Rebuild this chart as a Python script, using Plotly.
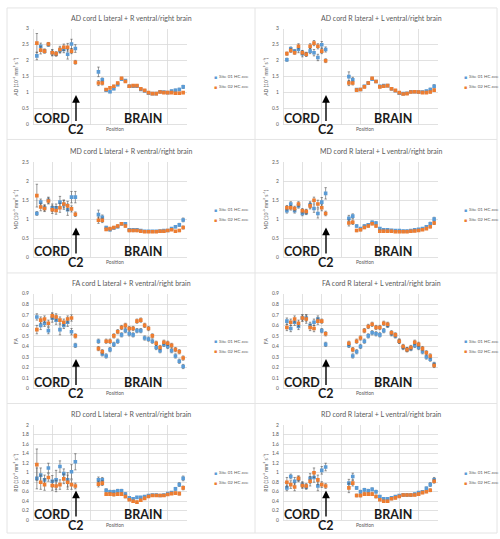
import plotly.graph_objects as go

# ---------------- data ----------------
POSITION = [1, 2, 3, 4, 5, 6, 7, 8, 9, 10, 11,
            17, 18, 19, 20, 21, 22, 23, 24, 25, 26, 27, 28, 29, 30, 31, 32, 33, 34, 35, 36, 37, 38, 39]

SERIES_NAMES = ["Site 01 HC average", "Site 02 HC average"]
LEGEND_LABELS = ["Site 01 HC ave", "Site 02 HC ave"]   # truncated at the panel edge in the original

TITLES = [
    "AD cord L lateral + R ventral/right brain", "AD cord R lateral + L ventral/right brain",
    "MD cord L lateral + R ventral/right brain", "MD cord R lateral + L ventral/right brain",
    "FA cord L lateral + R ventral/right brain", "FA cord R lateral + L ventral/right brain",
    "RD cord L lateral + R ventral/right brain", "RD cord R lateral + L ventral/right brain",
]
YTITLES = ["AD (10⁻³ mm² s⁻¹)", "MD (10⁻³ mm² s⁻¹)", "FA", "RD (10⁻³ mm² s⁻¹)"]
YMAX = [3, 2.5, 0.9, 2]
YSTEP = [0.5, 0.5, 0.1, 0.2]

AD_L_S01 = [2.15, 2.45, 2.30, 2.50, 2.25, 2.20, 2.32, 2.35, 2.20, 2.52, 2.38,
            1.65, 1.40, 1.08, 1.03, 1.12, 1.25, 1.42, 1.38, 1.20, 1.20, 1.20, 1.10, 1.05, 0.98, 0.97, 0.97, 1.03, 1.02, 1.00, 1.05, 1.07, 1.10, 1.18]
AD_L_S02 = [2.55, 2.33, 2.30, 2.52, 2.25, 2.22, 2.35, 2.42, 2.42, 2.30, 1.95,
            1.30, 1.30, 1.10, 1.15, 1.20, 1.30, 1.45, 1.35, 1.20, 1.22, 1.22, 1.12, 1.07, 1.00, 0.97, 0.97, 1.02, 1.00, 1.00, 1.00, 0.98, 0.98, 1.00]
AD_L_S01_ERR = [0.12, 0.10, 0.06, 0.05, 0.10, 0.06, 0.08, 0.10, 0.15, 0.15, 0.12,
                0.15, 0.06, 0.03, 0.03, 0.03, 0.03, 0.03, 0.03, 0.03, 0.03, 0.03, 0.03, 0.02, 0.02, 0.02, 0.02, 0.02, 0.02, 0.02, 0.03, 0.04, 0.04, 0.05]
AD_L_S02_ERR = [0.30, 0.12, 0.06, 0.05, 0.08, 0.06, 0.10, 0.10, 0.12, 0.08, 0.06,
                0.08, 0.06, 0.03, 0.03, 0.03, 0.03, 0.03, 0.03, 0.03, 0.03, 0.03, 0.03, 0.02, 0.02, 0.02, 0.02, 0.02, 0.02, 0.02, 0.02, 0.02, 0.03, 0.03]

AD_R_S01 = [2.03, 2.37, 2.30, 2.35, 2.22, 2.20, 2.30, 2.25, 2.10, 2.50, 2.35,
            1.50, 1.40, 1.10, 1.10, 1.20, 1.30, 1.42, 1.35, 1.20, 1.22, 1.22, 1.12, 1.06, 0.98, 0.97, 0.98, 1.03, 1.03, 1.02, 1.02, 1.05, 1.10, 1.20]
AD_R_S02 = [2.22, 2.32, 2.25, 2.45, 2.25, 2.20, 2.45, 2.55, 2.45, 2.30, 2.00,
            1.30, 1.30, 1.08, 1.10, 1.18, 1.30, 1.45, 1.35, 1.18, 1.20, 1.22, 1.12, 1.07, 1.00, 0.96, 0.97, 1.02, 1.03, 1.02, 1.00, 1.00, 1.02, 1.08]
AD_R_S01_ERR = [0.05, 0.06, 0.05, 0.10, 0.10, 0.06, 0.08, 0.10, 0.10, 0.10, 0.08,
                0.15, 0.08, 0.03, 0.03, 0.03, 0.03, 0.03, 0.03, 0.03, 0.03, 0.03, 0.03, 0.02, 0.02, 0.02, 0.02, 0.02, 0.02, 0.02, 0.03, 0.03, 0.04, 0.05]
AD_R_S02_ERR = [0.05, 0.06, 0.05, 0.08, 0.06, 0.06, 0.08, 0.08, 0.08, 0.08, 0.06,
                0.08, 0.06, 0.03, 0.03, 0.03, 0.03, 0.03, 0.03, 0.03, 0.03, 0.03, 0.03, 0.02, 0.02, 0.02, 0.02, 0.02, 0.02, 0.02, 0.02, 0.02, 0.03, 0.03]

MD_L_S01 = [1.15, 1.45, 1.30, 1.50, 1.30, 1.30, 1.45, 1.38, 1.25, 1.58, 1.58,
            1.12, 1.05, 0.78, 0.72, 0.77, 0.80, 0.88, 0.88, 0.72, 0.72, 0.72, 0.70, 0.68, 0.68, 0.68, 0.68, 0.69, 0.70, 0.70, 0.75, 0.80, 0.85, 0.98]
MD_L_S02 = [1.62, 1.32, 1.28, 1.48, 1.25, 1.23, 1.30, 1.40, 1.35, 1.27, 1.13,
            0.97, 0.97, 0.73, 0.75, 0.78, 0.82, 0.88, 0.82, 0.70, 0.70, 0.70, 0.68, 0.67, 0.67, 0.67, 0.67, 0.68, 0.68, 0.70, 0.72, 0.68, 0.70, 0.78]
MD_L_S01_ERR = [0.05, 0.08, 0.08, 0.08, 0.10, 0.10, 0.15, 0.12, 0.15, 0.15, 0.15,
                0.12, 0.06, 0.03, 0.03, 0.03, 0.03, 0.03, 0.03, 0.03, 0.03, 0.03, 0.02, 0.02, 0.02, 0.02, 0.02, 0.02, 0.02, 0.02, 0.03, 0.03, 0.04, 0.05]
MD_L_S02_ERR = [0.30, 0.10, 0.08, 0.08, 0.10, 0.10, 0.12, 0.10, 0.12, 0.08, 0.06,
                0.08, 0.06, 0.03, 0.03, 0.03, 0.03, 0.03, 0.03, 0.03, 0.03, 0.03, 0.02, 0.02, 0.02, 0.02, 0.02, 0.02, 0.02, 0.02, 0.02, 0.02, 0.03, 0.04]

MD_R_S01 = [1.22, 1.40, 1.22, 1.35, 1.15, 1.18, 1.38, 1.28, 1.15, 1.45, 1.68,
            1.02, 1.08, 0.82, 0.75, 0.82, 0.85, 0.92, 0.90, 0.75, 0.72, 0.72, 0.71, 0.70, 0.70, 0.69, 0.69, 0.70, 0.72, 0.73, 0.75, 0.80, 0.88, 1.00]
MD_R_S02 = [1.30, 1.30, 1.28, 1.40, 1.22, 1.20, 1.35, 1.50, 1.40, 1.30, 1.15,
            0.90, 0.92, 0.70, 0.72, 0.78, 0.82, 0.88, 0.82, 0.68, 0.68, 0.68, 0.68, 0.67, 0.67, 0.67, 0.67, 0.68, 0.69, 0.70, 0.72, 0.75, 0.80, 0.90]
MD_R_S01_ERR = [0.06, 0.06, 0.06, 0.06, 0.06, 0.06, 0.08, 0.10, 0.12, 0.12, 0.15,
                0.08, 0.06, 0.03, 0.03, 0.03, 0.03, 0.03, 0.03, 0.03, 0.03, 0.03, 0.02, 0.02, 0.02, 0.02, 0.02, 0.02, 0.02, 0.02, 0.03, 0.03, 0.04, 0.05]
MD_R_S02_ERR = [0.06, 0.06, 0.06, 0.06, 0.06, 0.06, 0.08, 0.08, 0.10, 0.08, 0.06,
                0.08, 0.06, 0.03, 0.03, 0.03, 0.03, 0.03, 0.03, 0.03, 0.03, 0.03, 0.02, 0.02, 0.02, 0.02, 0.02, 0.02, 0.02, 0.02, 0.02, 0.02, 0.03, 0.04]

FA_L_S01 = [0.68, 0.60, 0.62, 0.55, 0.67, 0.65, 0.56, 0.60, 0.63, 0.54, 0.41,
            0.45, 0.33, 0.31, 0.37, 0.42, 0.45, 0.51, 0.55, 0.52, 0.51, 0.55, 0.55, 0.48, 0.47, 0.45, 0.39, 0.36, 0.42, 0.40, 0.36, 0.31, 0.26, 0.21]
FA_L_S02 = [0.56, 0.65, 0.66, 0.62, 0.69, 0.68, 0.65, 0.63, 0.66, 0.67, 0.50,
            0.38, 0.35, 0.45, 0.45, 0.50, 0.54, 0.58, 0.60, 0.57, 0.57, 0.64, 0.65, 0.60, 0.57, 0.50, 0.43, 0.39, 0.44, 0.43, 0.41, 0.37, 0.35, 0.29]
FA_L_S01_ERR = [0.03, 0.04, 0.03, 0.03, 0.04, 0.04, 0.05, 0.03, 0.04, 0.03, 0.02,
                0.02, 0.02, 0.02, 0.02, 0.02, 0.02, 0.02, 0.02, 0.02, 0.02, 0.02, 0.02, 0.02, 0.02, 0.02, 0.02, 0.02, 0.02, 0.02, 0.02, 0.02, 0.02, 0.02]
FA_L_S02_ERR = [0.04, 0.03, 0.03, 0.03, 0.03, 0.03, 0.03, 0.03, 0.03, 0.03, 0.02,
                0.02, 0.02, 0.02, 0.02, 0.02, 0.02, 0.02, 0.02, 0.02, 0.02, 0.02, 0.02, 0.02, 0.02, 0.02, 0.02, 0.02, 0.02, 0.02, 0.02, 0.02, 0.02, 0.02]

FA_R_S01 = [0.64, 0.57, 0.63, 0.59, 0.67, 0.67, 0.60, 0.63, 0.66, 0.55, 0.42,
            0.41, 0.31, 0.35, 0.40, 0.45, 0.50, 0.53, 0.52, 0.51, 0.55, 0.60, 0.52, 0.50, 0.45, 0.39, 0.37, 0.38, 0.41, 0.39, 0.35, 0.30, 0.28, 0.23]
FA_R_S02 = [0.58, 0.63, 0.66, 0.62, 0.67, 0.66, 0.58, 0.57, 0.64, 0.64, 0.52,
            0.43, 0.37, 0.45, 0.48, 0.55, 0.59, 0.61, 0.58, 0.58, 0.62, 0.61, 0.53, 0.51, 0.45, 0.40, 0.37, 0.39, 0.44, 0.42, 0.38, 0.34, 0.31, 0.22]
FA_R_S01_ERR = [0.03, 0.03, 0.03, 0.03, 0.03, 0.03, 0.03, 0.03, 0.03, 0.02, 0.02,
                0.02, 0.02, 0.02, 0.02, 0.02, 0.02, 0.02, 0.02, 0.02, 0.02, 0.02, 0.02, 0.02, 0.02, 0.02, 0.02, 0.02, 0.02, 0.02, 0.02, 0.02, 0.02, 0.02]
FA_R_S02_ERR = [0.03, 0.03, 0.03, 0.03, 0.03, 0.04, 0.03, 0.03, 0.03, 0.02, 0.02,
                0.02, 0.02, 0.02, 0.02, 0.02, 0.02, 0.02, 0.02, 0.02, 0.02, 0.02, 0.02, 0.02, 0.02, 0.02, 0.02, 0.02, 0.02, 0.02, 0.02, 0.02, 0.02, 0.02]

RD_L_S01 = [0.88, 0.95, 0.85, 1.10, 0.82, 0.85, 1.13, 0.98, 0.85, 1.02, 1.23,
            0.85, 0.85, 0.63, 0.60, 0.60, 0.62, 0.62, 0.55, 0.47, 0.45, 0.48, 0.48, 0.50, 0.52, 0.53, 0.53, 0.52, 0.53, 0.56, 0.58, 0.66, 0.75, 0.88]
RD_L_S02 = [1.17, 0.80, 0.75, 0.90, 0.73, 0.72, 0.75, 0.87, 0.80, 0.75, 0.72,
            0.76, 0.78, 0.55, 0.55, 0.54, 0.55, 0.55, 0.50, 0.43, 0.40, 0.38, 0.42, 0.46, 0.50, 0.52, 0.52, 0.52, 0.52, 0.54, 0.56, 0.57, 0.56, 0.68]
RD_L_S01_ERR = [0.22, 0.15, 0.10, 0.10, 0.12, 0.20, 0.12, 0.10, 0.15, 0.15, 0.17,
                0.06, 0.05, 0.03, 0.03, 0.03, 0.03, 0.03, 0.03, 0.02, 0.02, 0.02, 0.02, 0.02, 0.02, 0.02, 0.02, 0.02, 0.02, 0.02, 0.02, 0.03, 0.04, 0.05]
RD_L_S02_ERR = [0.33, 0.15, 0.12, 0.08, 0.10, 0.12, 0.10, 0.10, 0.15, 0.10, 0.06,
                0.06, 0.05, 0.03, 0.03, 0.03, 0.03, 0.03, 0.03, 0.02, 0.02, 0.02, 0.02, 0.02, 0.02, 0.02, 0.02, 0.02, 0.02, 0.02, 0.02, 0.02, 0.03, 0.04]

RD_R_S01 = [0.68, 0.92, 0.82, 0.87, 0.75, 0.70, 0.88, 0.90, 0.72, 1.05, 1.12,
            0.78, 0.92, 0.68, 0.60, 0.64, 0.62, 0.65, 0.60, 0.50, 0.45, 0.45, 0.47, 0.50, 0.52, 0.53, 0.53, 0.53, 0.55, 0.58, 0.60, 0.67, 0.75, 0.85]
RD_R_S02 = [0.80, 0.75, 0.70, 0.88, 0.73, 0.72, 0.82, 1.00, 0.85, 0.75, 0.72,
            0.68, 0.78, 0.52, 0.52, 0.55, 0.55, 0.55, 0.50, 0.43, 0.40, 0.40, 0.45, 0.47, 0.50, 0.53, 0.53, 0.53, 0.53, 0.55, 0.58, 0.60, 0.63, 0.82]
RD_R_S01_ERR = [0.06, 0.05, 0.08, 0.06, 0.06, 0.05, 0.10, 0.10, 0.10, 0.08, 0.08,
                0.08, 0.07, 0.03, 0.03, 0.03, 0.03, 0.03, 0.03, 0.02, 0.02, 0.02, 0.02, 0.02, 0.02, 0.02, 0.02, 0.02, 0.02, 0.02, 0.02, 0.03, 0.04, 0.05]
RD_R_S02_ERR = [0.10, 0.08, 0.08, 0.05, 0.06, 0.05, 0.10, 0.10, 0.10, 0.06, 0.05,
                0.10, 0.06, 0.03, 0.03, 0.03, 0.03, 0.03, 0.03, 0.02, 0.02, 0.02, 0.02, 0.02, 0.02, 0.02, 0.02, 0.02, 0.02, 0.02, 0.02, 0.02, 0.03, 0.04]

PANEL_DATA = [
    (AD_L_S01, AD_L_S01_ERR, AD_L_S02, AD_L_S02_ERR), (AD_R_S01, AD_R_S01_ERR, AD_R_S02, AD_R_S02_ERR),
    (MD_L_S01, MD_L_S01_ERR, MD_L_S02, MD_L_S02_ERR), (MD_R_S01, MD_R_S01_ERR, MD_R_S02, MD_R_S02_ERR),
    (FA_L_S01, FA_L_S01_ERR, FA_L_S02, FA_L_S02_ERR), (FA_R_S01, FA_R_S01_ERR, FA_R_S02, FA_R_S02_ERR),
    (RD_L_S01, RD_L_S01_ERR, RD_L_S02, RD_L_S02_ERR), (RD_R_S01, RD_R_S01_ERR, RD_R_S02, RD_R_S02_ERR),
]

# ---------------- layout helpers ----------------
W, H = 500, 539
COLORS = ["#5B9BD5", "#ED7D31"]
GRID = "#D9D9D9"
TXT = "#595959"
FONT = "Lato"

COL_L = [33, 283]
COL_R = [187, 438]
LEG_MARK_X = [215, 465]
ROW_TB = [(26, 123), (161, 257), (294, 390), (427, 523)]


def px(x):
    return x / W


def py(y):
    return 1 - y / H


def note(x, y, text, size, color=TXT, weight="normal", xanchor="center", **kw):
    return dict(x=px(x), y=py(y), xref="paper", yref="paper", text=text, showarrow=False,
                xanchor=xanchor, yanchor="middle", borderpad=0,
                font=dict(family=FONT, size=size, color=color, weight=weight), **kw)


fig = go.Figure()
annotations = []
layout_axes = {}

for i in range(8):
    r, c = divmod(i, 2)
    k = "" if i == 0 else str(i + 1)
    xa, ya = "x" + k, "y" + k
    top, bot = ROW_TB[r]
    L, R = COL_L[c], COL_R[c]
    s1, e1, s2, e2 = PANEL_DATA[i]
    for j, (vals, errs) in enumerate([(s1, e1), (s2, e2)]):
        fig.add_trace(go.Scatter(
            x=POSITION, y=vals, mode="markers", name=SERIES_NAMES[j],
            xaxis=xa, yaxis=ya, showlegend=False,
            marker=dict(symbol="square", size=3.6, color=COLORS[j]),
            error_y=dict(type="data", array=errs, visible=True, color="#555555",
                         thickness=0.6, width=1.2),
        ))
    layout_axes["xaxis" + k] = dict(
        domain=[px(L), px(R)], anchor=ya, range=[0, 40], dtick=5, tick0=0,
        showticklabels=False, showgrid=True, gridcolor=GRID, gridwidth=0.8,
        zeroline=True, zerolinecolor=GRID, zerolinewidth=0.8, showline=False, ticks="",
        fixedrange=True,
    )
    layout_axes["yaxis" + k] = dict(
        domain=[py(bot), py(top)], anchor=xa, range=[0, YMAX[r]], dtick=YSTEP[r], tick0=0,
        showgrid=True, gridcolor=GRID, gridwidth=0.8, zeroline=True, zerolinecolor=GRID,
        zerolinewidth=0.8, showline=False, ticks="", ticklabelstandoff=3,
        tickfont=dict(family=FONT, size=5, color=TXT),
        title=dict(text=YTITLES[r], font=dict(family=FONT, size=5, color=TXT), standoff=3),
        fixedrange=True,
    )
    annotations.append(note(L + 98, top - 11, TITLES[i], 7))
    annotations.append(note(L + 82, bot + 4.5, "Position", 5))
    # legend
    cy = (top + bot) / 2 + 5
    for j in range(2):
        yy = cy - 5 + 10 * j
        annotations.append(note(LEG_MARK_X[c], yy, "■", 5, color=COLORS[j]))
        annotations.append(note(LEG_MARK_X[c] + 3, yy, LEGEND_LABELS[j], 4.5, xanchor="left"))
    # CORD / BRAIN labels
    annotations.append(note(L + 19, bot - 6, "CORD", 12.5, color="#1a1a1a", weight="bold"))
    annotations.append(note(L + 110, bot - 6, "BRAIN", 12.5, color="#1a1a1a", weight="bold"))
    # C2 with arrow
    annotations.append(dict(x=px(L + 43), y=py(bot - 30), xref="paper", yref="paper",
                            ax=0, ay=35, text="C2", showarrow=True,
                            arrowhead=2, arrowsize=1.1, arrowwidth=1.4, arrowcolor="#000000",
                            font=dict(family=FONT, size=12.5, color="#1a1a1a", weight="bold")))

# panel separators
shapes = [
    dict(type="rect", xref="paper", yref="paper", x0=px(7), x1=px(497), y0=py(536), y1=py(5),
         line=dict(color="#E4E4E4", width=1)),
    dict(type="line", xref="paper", yref="paper", x0=px(255), x1=px(255), y0=py(536), y1=py(5),
         line=dict(color="#E4E4E4", width=1)),
]
for yy in [138, 273, 405]:
    shapes.append(dict(type="line", xref="paper", yref="paper", x0=px(7), x1=px(497),
                       y0=py(yy), y1=py(yy), line=dict(color="#E4E4E4", width=1)))

fig.update_layout(
    width=W, height=H, margin=dict(l=0, r=0, t=0, b=0),
    paper_bgcolor="white", plot_bgcolor="white",
    showlegend=False, annotations=annotations, shapes=shapes,
    font=dict(family=FONT, color=TXT), hovermode=False,
    **layout_axes,
)

fig.write_html("out.html", config={"displayModeBar": False, "staticPlot": True},
               post_script="document.body.style.margin='0';document.body.style.overflow='hidden';")
